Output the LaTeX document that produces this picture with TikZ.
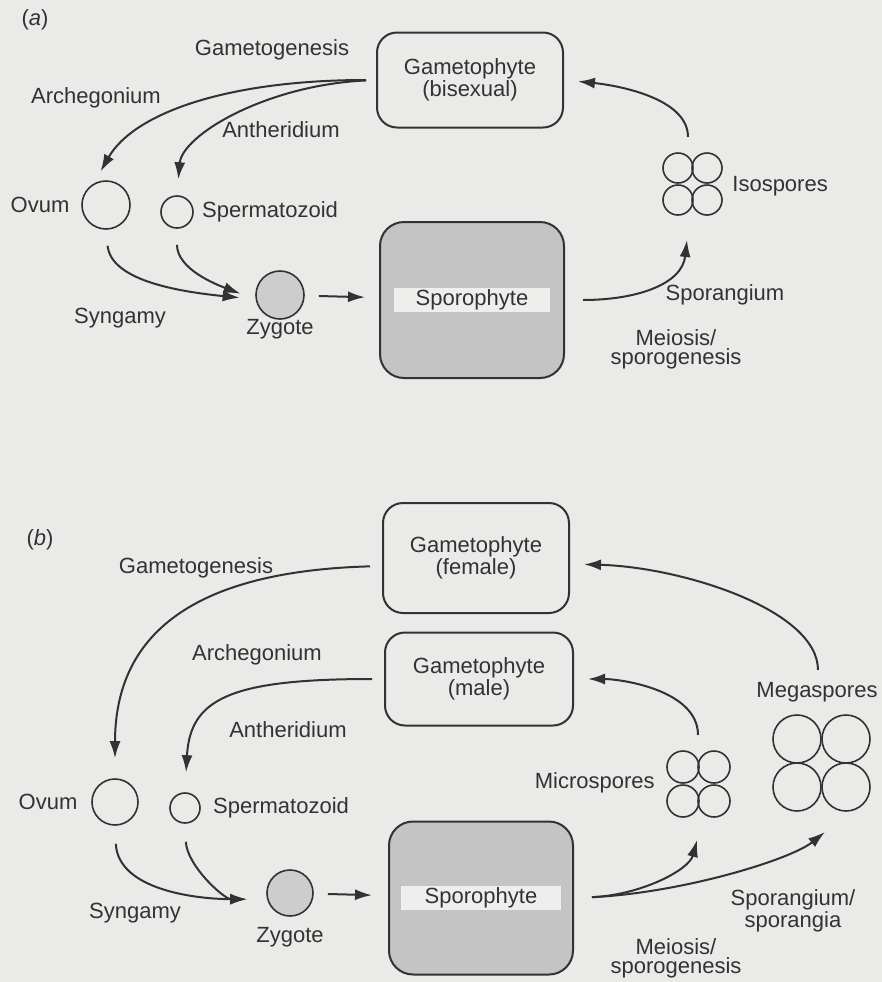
\documentclass[tikz,border=0pt]{standalone}
\usepackage{fontspec}
\setmainfont{Liberation Sans}
\usetikzlibrary{shapes,arrows.meta,positioning}
\definecolor{paper}{RGB}{234,234,232}
\definecolor{ink}{RGB}{50,50,50}
\definecolor{sporo}{RGB}{196,196,196}
\definecolor{bandc}{RGB}{238,238,236}
\definecolor{zygc}{RGB}{205,205,205}
\tikzstyle{gbox} = [draw=ink, line width=1pt, rounded corners=10pt, fill=paper,
minimum width=93pt, align=center, text=ink]
\tikzstyle{sbox} = [draw=ink, line width=1pt, rounded corners=12pt, fill=sporo,
minimum width=92pt]
\tikzstyle{band} = [fill=bandc, text=ink, minimum width=78pt, minimum height=12pt, inner sep=0pt]
\tikzstyle{cell} = [draw=ink, line width=0.8pt, circle, inner sep=0pt]
\tikzstyle{lbl} = [text=ink, inner sep=1pt, align=center]
\tikzstyle{flow} = [draw=ink, line width=1pt, -{Latex[length=8.5pt,width=5.5pt]}]

\begin{document}
\begin{tikzpicture}[x=0.5pt, y=-0.5pt, font=\fontsize{11}{9.5}\selectfont]

	\fill[paper] (0,0) rectangle (882,982);
	\useasboundingbox (0,0) rectangle (882,982);

	% (a) isosporous cycle
	\node [lbl] (tag_a) at (35,20) {(\textit{a})};
	\node [gbox, minimum height=47.5pt] (gam_a) at (470,80) {Gametophyte\\(bisexual)};
	\node [cell, minimum size=24pt] (ova_a) at (106,205) {};
	\node [cell, minimum size=16pt] (spm_a) at (177,212) {};
	\node [cell, fill=zygc, minimum size=24pt] (zyg_a) at (280,295) {};
	\node [sbox, minimum height=78pt] (spo_a) at (472,300) {};
	\node [band] (spo_a_txt) at (spo_a) {Sporophyte};
	\node [cell, minimum size=15pt] (iso1) at (678,168) {};
	\node [cell, minimum size=15pt] (iso2) at (707,168) {};
	\node [cell, minimum size=15pt] (iso3) at (678,200) {};
	\node [cell, minimum size=15pt] (iso4) at (707,200) {};
	\coordinate (iso_top) at (688,137);
	\coordinate (iso_bot) at (687,240);

	\node [lbl] (gen_a) at (272,50) {Gametogenesis};
	\node [lbl] (arc_a) at (96,98) {Archegonium};
	\node [lbl] (ant_a) at (281,130) {Antheridium};
	\node [lbl, left of=ova_a, node distance=33pt] (ova_a_l) {Ovum};
	\node [lbl, right=3pt of spm_a] (spm_a_l) {Spermatozoid};
	\node [lbl] (syn_a) at (120,318) {Syngamy};
	\node [lbl, below of=zyg_a, node distance=17pt] (zyg_a_l) {Zygote};
	\node [lbl, anchor=west] (iso_l) at (730,186) {Isospores};
	\node [lbl] (spg_a) at (725,295) {Sporangium};
	\node [lbl] (mei_a) at (676,349) {Meiosis/\\sporogenesis};

	\draw [flow, shorten <=5pt, shorten >=7pt] (gam_a.west) .. controls +(-150,0) and +(40,-70) .. (ova_a.120);
	\draw [flow, shorten <=5pt, shorten >=8pt] (gam_a.west) .. controls +(-110,5) and +(5,-60) .. (spm_a.north);
	\draw [flow, shorten <=8pt, shorten >=8pt] (ova_a.south) .. controls +(5,50) and +(-80,-8) .. (zyg_a.190);
	\draw [flow, shorten <=8pt, shorten >=8pt] (spm_a.south) .. controls +(0,40) and +(-40,-15) .. (zyg_a.190);
	\draw [flow, shorten <=7pt, shorten >=7pt] (zyg_a) -- (spo_a);
	\draw [flow, shorten <=9pt] (spo_a.east) .. controls +(70,0) and +(-5,45) .. (iso_bot);
	\draw [flow, shorten >=7pt] (iso_top) .. controls +(0,-40) and +(50,5) .. (gam_a.east);

	% (b) heterosporous cycle
	\node [lbl] (tag_b) at (40,540) {(\textit{b})};
	\node [gbox, minimum height=55pt] (fem) at (476,558) {Gametophyte\\(female)};
	\node [gbox, minimum height=46.5pt, minimum width=94pt] (male) at (479,679) {Gametophyte\\(male)};
	\node [cell, minimum size=23pt] (ova_b) at (115,802) {};
	\node [cell, minimum size=15pt] (spm_b) at (185,808) {};
	\node [cell, fill=zygc, minimum size=23pt] (zyg_b) at (290,893) {};
	\node [sbox, minimum height=76.5pt] (spo_b) at (481,898) {};
	\node [band, minimum width=80pt] (spo_b_txt) at (spo_b) {Sporophyte};
	\node [cell, minimum size=16pt] (mic1) at (683,767) {};
	\node [cell, minimum size=16pt] (mic2) at (714,767) {};
	\node [cell, minimum size=16pt] (mic3) at (683,801) {};
	\node [cell, minimum size=16pt] (mic4) at (714,801) {};
	\node [cell, minimum size=24pt] (meg1) at (797,739) {};
	\node [cell, minimum size=24pt] (meg2) at (846,739) {};
	\node [cell, minimum size=24pt] (meg3) at (797,787) {};
	\node [cell, minimum size=24pt] (meg4) at (846,787) {};
	\coordinate (mic_top) at (698,735);
	\coordinate (mic_bot) at (697,840);
	\coordinate (meg_top) at (818,670);
	\coordinate (meg_bot) at (825,832);

	\node [lbl] (gen_b) at (196,568) {Gametogenesis};
	\node [lbl] (arc_b) at (257,655) {Archegonium};
	\node [lbl] (ant_b) at (288,730) {Antheridium};
	\node [lbl, left of=ova_b, node distance=33.5pt] (ova_b_l) {Ovum};
	\node [lbl, right=5pt of spm_b] (spm_b_l) {Spermatozoid};
	\node [lbl] (syn_b) at (135,913) {Syngamy};
	\node [lbl, below of=zyg_b, node distance=22pt] (zyg_b_l) {Zygote};
	\node [lbl, anchor=east] (mic_l) at (657,783) {Microspores};
	\node [lbl] (meg_l) at (817,692) {Megaspores};
	\node [lbl] (spg_b) at (793,911) {Sporangium/\\sporangia};
	\node [lbl] (mei_b) at (676,958) {Meiosis/\\sporogenesis};

	\draw [flow, shorten <=6pt, shorten >=10pt] ([yshift=-4pt]fem.west) .. controls +(-180,5) and +(0,-150) .. (ova_b.north);
	\draw [flow, shorten <=6pt, shorten >=10pt] (male.west) .. controls +(-155,0) and +(5,-93) .. (spm_b.north);
	\draw [flow, shorten <=9pt, shorten >=10pt] (ova_b.south) .. controls +(3,65) and +(-68,0) .. (zyg_b.195);
	\draw [flow, shorten <=9pt, shorten >=10pt] (spm_b.south) .. controls +(2,42) and +(-43,0) .. (zyg_b.195);
	\draw [flow, shorten <=7pt, shorten >=8pt] (zyg_b) -- (spo_b);
	\draw [flow, shorten <=9pt] (spo_b.east) .. controls +(67,-3) and +(-8,30) .. (mic_bot);
	\draw [flow, shorten <=9pt] (spo_b.east) .. controls +(107,-5) and +(-35,28) .. (meg_bot);
	\draw [flow, shorten >=7pt] (mic_top) .. controls +(0,-45) and +(47,0) .. (male.east);
	\draw [flow, shorten >=7pt] (meg_top) .. controls +(0,-60) and +(112,3) .. ([yshift=-3pt]fem.east);

\end{tikzpicture}
\end{document}
